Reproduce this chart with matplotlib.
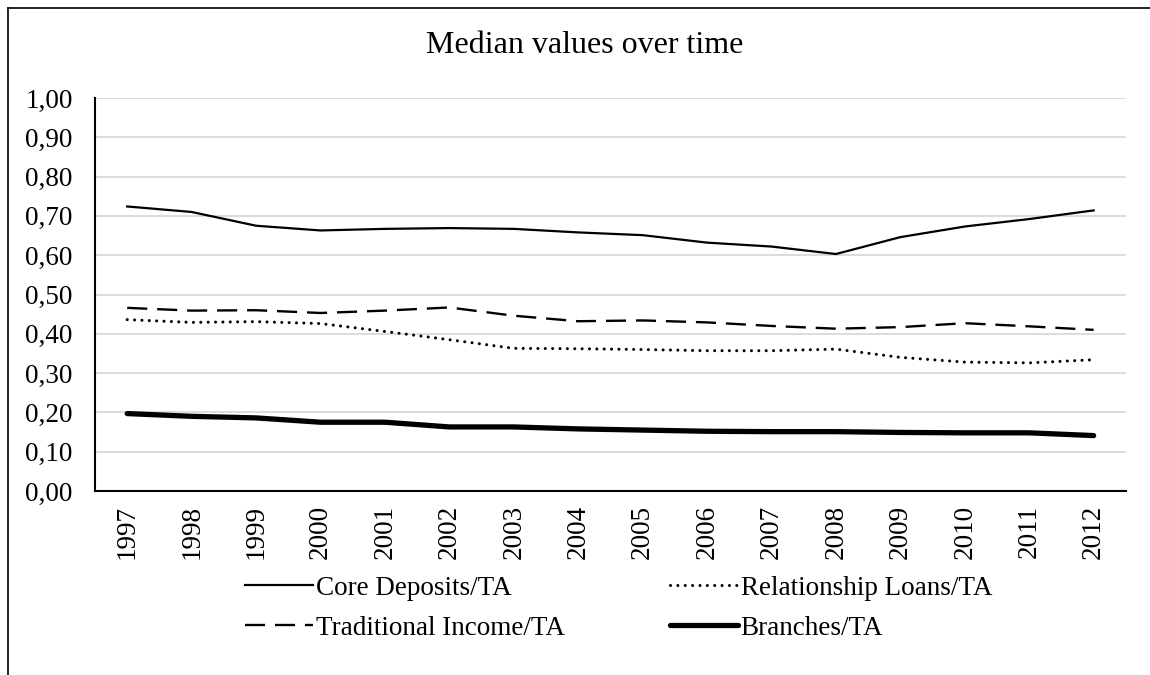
import matplotlib
matplotlib.use("Agg")
import matplotlib.pyplot as plt
from matplotlib.lines import Line2D
from matplotlib.ticker import FuncFormatter

plt.rcParams["font.family"] = ["Liberation Serif", "DejaVu Serif"]

YEARS = [str(y) for y in range(1997, 2013)]

CORE_DEPOSITS = [0.724, 0.710, 0.675, 0.663, 0.667, 0.669, 0.667, 0.658,
                 0.651, 0.632, 0.622, 0.603, 0.646, 0.673, 0.692, 0.714]
RELATIONSHIP_LOANS = [0.436, 0.429, 0.431, 0.426, 0.406, 0.385, 0.363, 0.362,
                      0.360, 0.357, 0.357, 0.361, 0.340, 0.328, 0.326, 0.334]
TRADITIONAL_INCOME = [0.466, 0.459, 0.460, 0.453, 0.459, 0.467, 0.446, 0.432,
                      0.434, 0.429, 0.420, 0.413, 0.417, 0.427, 0.419, 0.410]
BRANCHES = [0.197, 0.190, 0.186, 0.175, 0.175, 0.163, 0.163, 0.158,
            0.155, 0.152, 0.151, 0.151, 0.149, 0.148, 0.148, 0.141]

FS = 19.5

fig = plt.figure(figsize=(11.5, 6.75), dpi=100)
ax = fig.add_axes([0.0826, 0.2726, 0.8964, 0.5822])

x = list(range(len(YEARS)))
l_core, = ax.plot(x, CORE_DEPOSITS, color="black", lw=1.6,
                  label="Core Deposits/TA")
l_trad, = ax.plot(x, TRADITIONAL_INCOME, color="black", lw=1.7,
                  linestyle=(0, (8.5, 4.2)), label="Traditional Income/TA")
l_rel, = ax.plot(x, RELATIONSHIP_LOANS, color="black", lw=2.2,
                 linestyle=(0, (0.01, 2.4)), dash_capstyle="round",
                 label="Relationship Loans/TA")
l_br, = ax.plot(x, BRANCHES, color="black", lw=3.8, solid_capstyle="round",
                label="Branches/TA")

ax.set_xlim(-0.5, len(YEARS) - 0.5)
ax.set_ylim(0, 1.0)
ax.set_xticks(x)
ax.set_xticklabels(YEARS, rotation=90, fontsize=FS)
ax.set_yticks([i / 10 for i in range(11)])
ax.yaxis.set_major_formatter(FuncFormatter(lambda v, _: f"{v:.2f}".replace(".", ",")))
ax.tick_params(axis="both", length=0, labelsize=FS)
ax.tick_params(axis="y", pad=16)
ax.tick_params(axis="x", pad=10)
ax.yaxis.grid(True, color="#d9d9d9", lw=1.3)
ax.set_axisbelow(True)
for side in ("top", "right"):
    ax.spines[side].set_visible(False)
for side in ("left", "bottom"):
    ax.spines[side].set_linewidth(1.5)
    ax.spines[side].set_color("black")

fig.text(0.508, 0.933, "Median values over time", ha="center", va="center",
         fontsize=23)

fig.legend(handles=[l_core, l_trad, l_rel, l_br], ncol=2, loc="center",
           bbox_to_anchor=(0.538, 0.099), frameon=False, fontsize=FS,
           handlelength=2.5, handletextpad=0.1, columnspacing=3.9,
           labelspacing=0.56)

# outer frame along the left and top edges
fig.add_artist(Line2D([0.007, 0.007], [0.0, 0.988], color="black", lw=1.2,
                      transform=fig.transFigure))
fig.add_artist(Line2D([0.007, 1.0], [0.988, 0.988], color="black", lw=1.2,
                      transform=fig.transFigure))

fig.savefig("out.png", dpi=100, facecolor="white")
